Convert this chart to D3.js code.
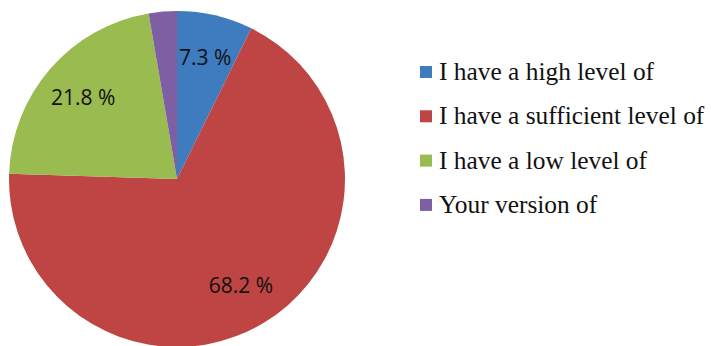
<!DOCTYPE html>
<html>
<head>
<meta charset="utf-8">
<script src="https://cdnjs.cloudflare.com/ajax/libs/d3/7.8.5/d3.min.js"></script>
</head>
<body style="margin:0;background:#fff">
<svg id="chart" width="711" height="346"></svg>
<script>
// data
const categories = ["I have a high level of", "I have a sufficient level of", "I have a low level of", "Your version of"];
const values = [7.3, 68.2, 21.8, 2.7];
const colors = ["#3f7bbf", "#be4543", "#9abb4f", "#7f5fa3"];
const shownLabels = ["7.3 %", "68.2 %", "21.8 %", ""];

const svg = d3.select("#chart");
const cx = 177, cy = 179, R = 168;

const pie = d3.pie().sort(null).value(d => d.v);
const arc = d3.arc().innerRadius(0).outerRadius(R);
const labelArc = d3.arc().innerRadius(R * 0.74).outerRadius(R * 0.74);

const rows = categories.map((c, i) => ({ c: c, v: values[i], col: colors[i], lab: shownLabels[i] }));
const arcs = pie(rows);

const g = svg.append("g").attr("transform", `translate(${cx},${cy})`);

g.selectAll("path").data(arcs).enter().append("path")
    .attr("d", arc)
    .attr("fill", d => d.data.col);

g.selectAll("text").data(arcs.filter(d => d.data.lab)).enter().append("text")
    .attr("transform", d => `translate(${labelArc.centroid(d)})`)
    .attr("text-anchor", "middle")
    .attr("dy", "0.35em")
    .attr("font-family", "Open Sans")
    .attr("font-size", 21)
    .attr("fill", "#111")
    .text(d => d.data.lab);

// legend
const legend = svg.append("g")
    .attr("transform", "translate(420,72)")
    .attr("font-family", "Liberation Serif");

rows.forEach((d, i) => {
    const y = i * 44.3;
    legend.append("rect")
        .attr("x", 0).attr("y", y - 6)
        .attr("width", 12).attr("height", 12)
        .attr("fill", d.col);
    legend.append("text")
        .attr("x", 19).attr("y", y + 8)
        .attr("font-family", "Liberation Serif")
        .attr("font-size", 25.4)
        .attr("fill", "#111")
        .text(d.c);
});
</script>
</body>
</html>
